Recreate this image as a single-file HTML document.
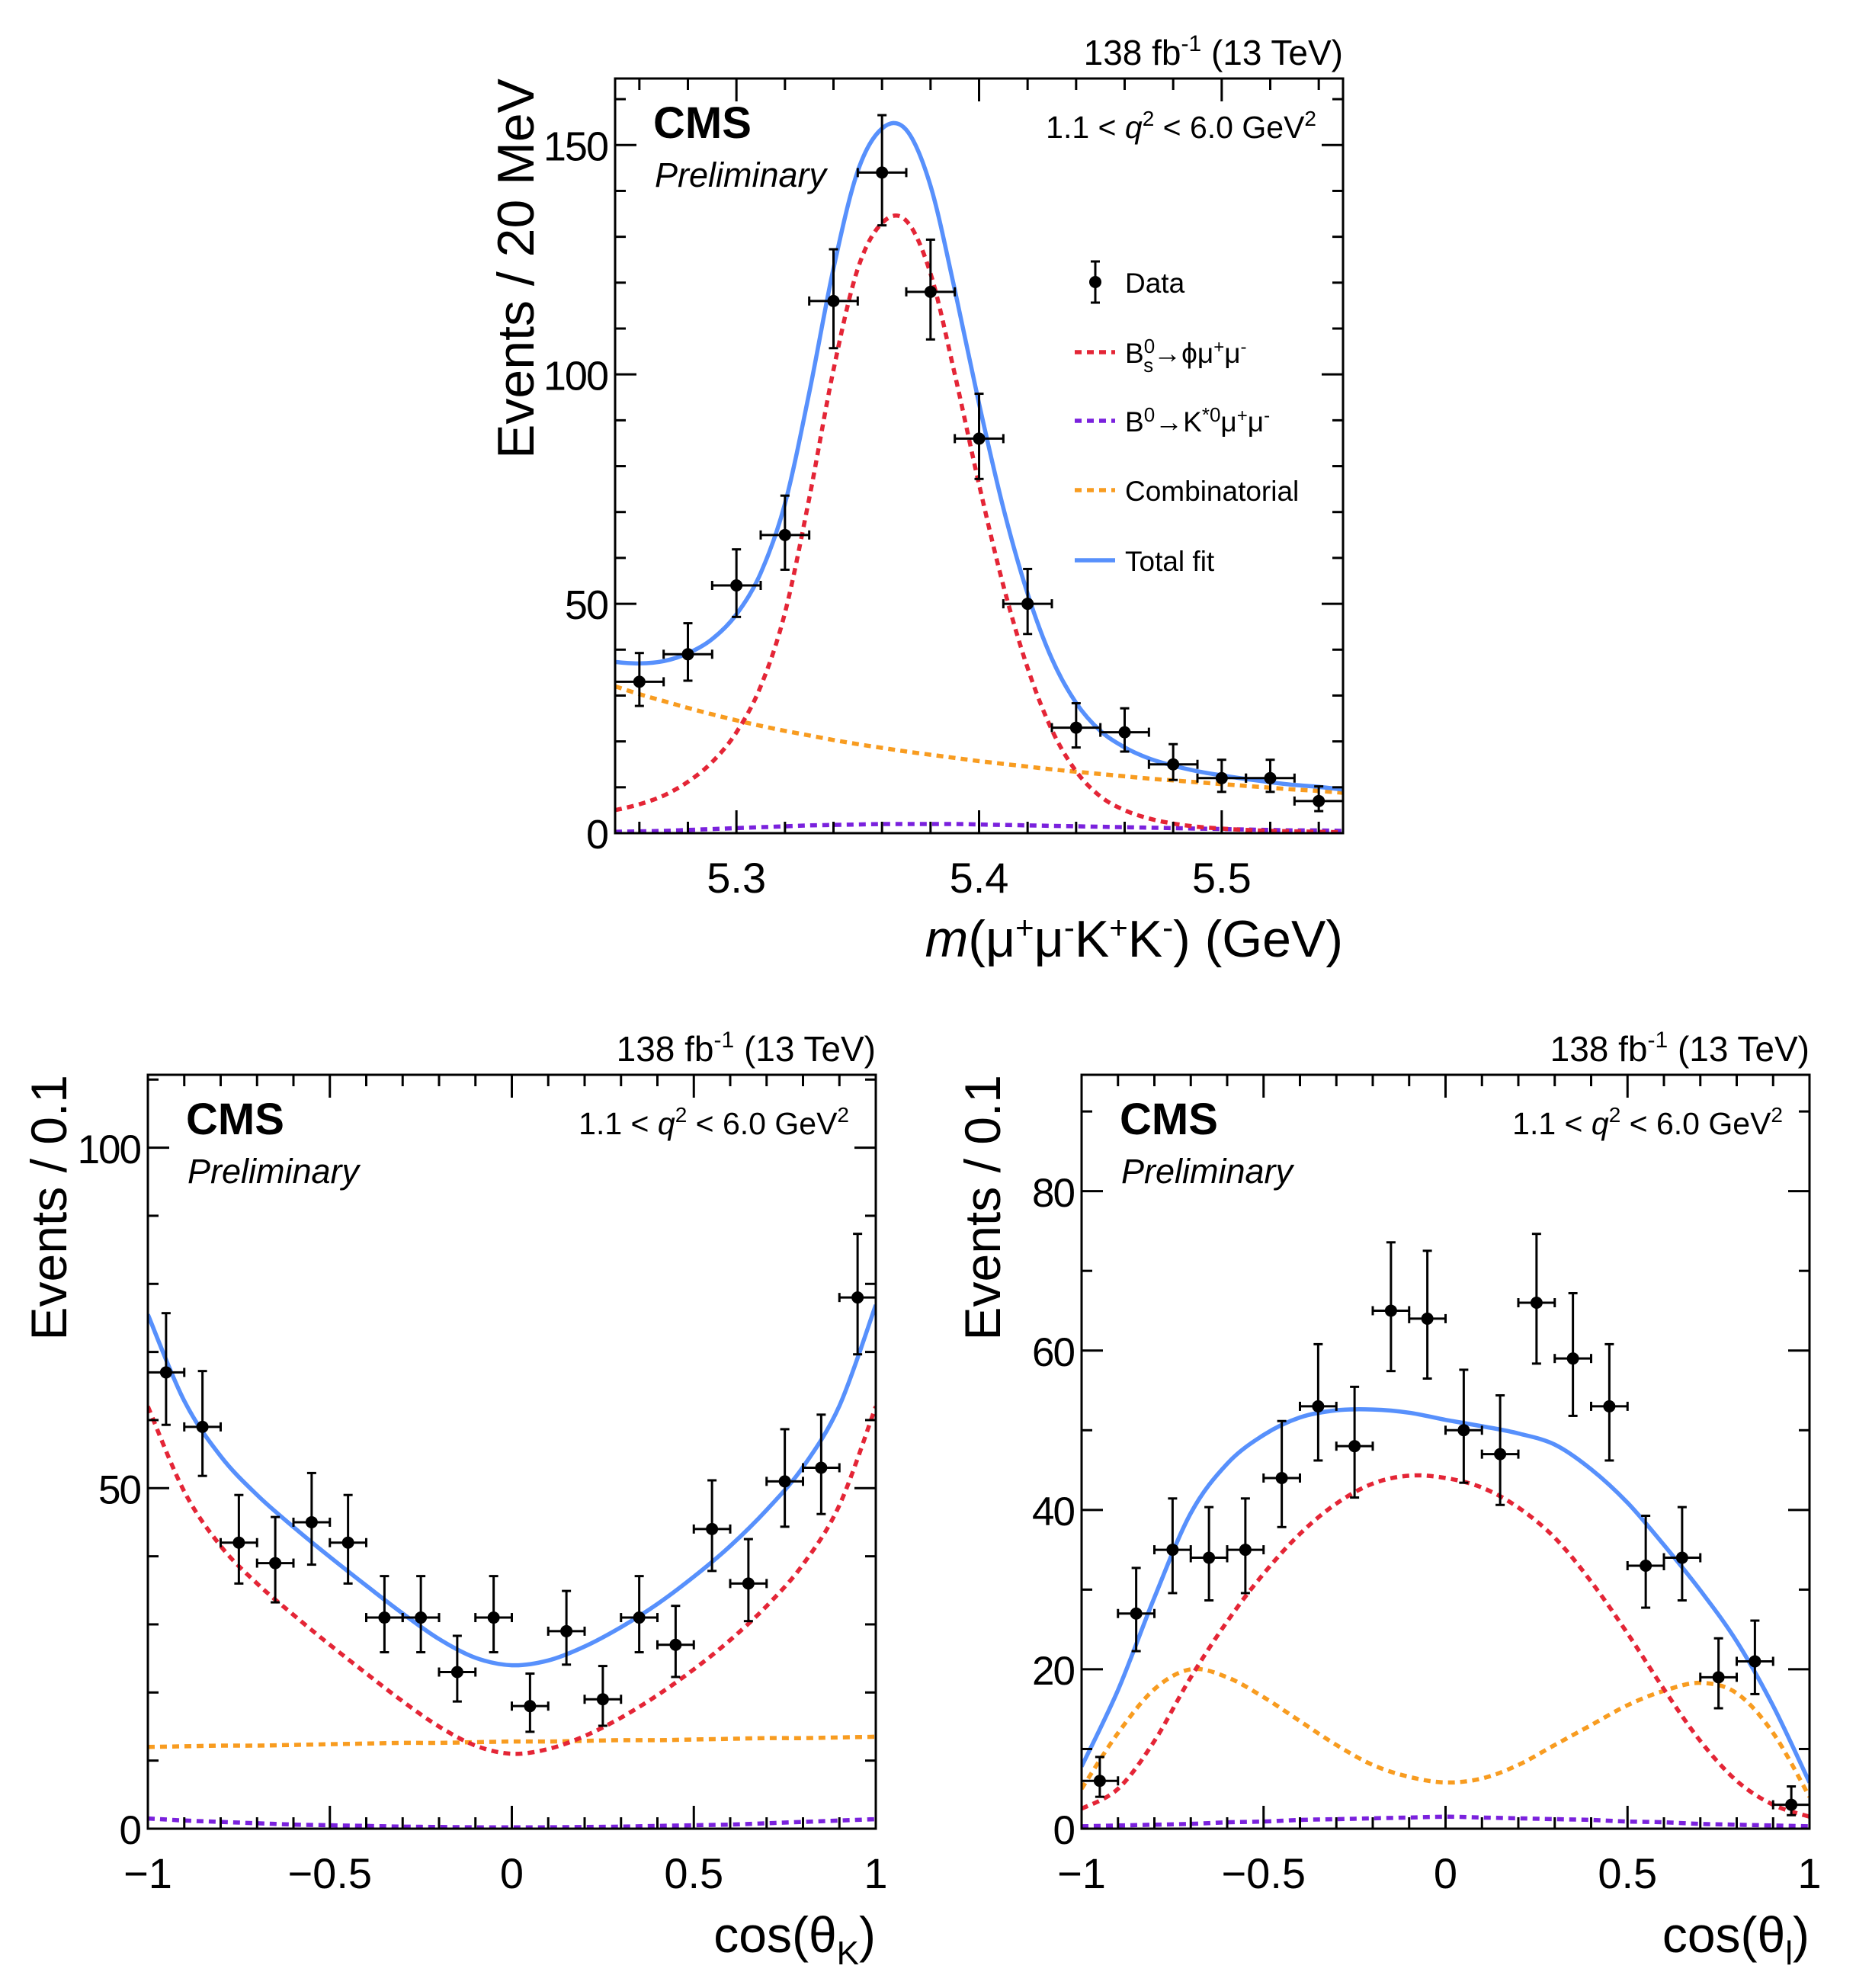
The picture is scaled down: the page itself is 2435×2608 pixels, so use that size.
<!DOCTYPE html>
<html><head><meta charset="utf-8">
<style>
html,body{margin:0;padding:0;background:#fff;}
svg{display:block;font-family:"Liberation Sans",Arial,sans-serif;}
</style></head>
<body>
<svg id="fig" xmlns="http://www.w3.org/2000/svg" width="2435" height="2608" viewBox="0 0 2435 2608">
<rect x="0" y="0" width="2435" height="2608" fill="#fff"/>
</svg>
<script>
// ---------- Top panel data: m(mu mu K K) ----------
const massBins = [5.26,5.28,5.30,5.32,5.34,5.36,5.38,5.40,5.42,5.44,5.46,5.48,5.50,5.52,5.54];
const massCounts = [33,39,54,65,116,144,118,86,50,23,22,15,12,12,7];
const massGrid = [5.25,5.26,5.27,5.28,5.29,5.30,5.31,5.32,5.33,5.34,5.35,5.36,5.37,5.38,5.39,5.40,5.41,5.42,5.43,5.44,5.45,5.46,5.47,5.48,5.49,5.50,5.51,5.52,5.53,5.54,5.55];
const massSignal = [5,6.3,8.2,11.2,15.5,22,32,48,73,101,123,133,133.5,122,100,76,54,36,22.5,13.5,8,5,3.2,2.1,1.4,1,0.7,0.5,0.4,0.3,0.2];
const massPeaking = [0.3,0.4,0.5,0.7,0.9,1.1,1.3,1.5,1.7,1.8,1.9,2.0,2.0,2.0,2.0,1.9,1.8,1.7,1.6,1.5,1.4,1.3,1.2,1.1,1.0,0.9,0.8,0.7,0.6,0.6,0.5];
const massComb = [32,30.3,28.8,27.3,25.9,24.6,23.4,22.3,21.3,20.3,19.4,18.6,17.8,17.1,16.4,15.7,15.1,14.5,13.9,13.4,12.9,12.4,11.9,11.5,11.1,10.7,10.3,9.9,9.5,9.2,8.8];
const massXTicks = [5.3,5.4,5.5];
const massXTickLabels = ["5.3","5.4","5.5"];
const massYTicks = [0,50,100,150];
const massYTickLabels = ["0","50","100","150"];

// ---------- Bottom-left data: cos(theta_K) ----------
const ckBins = [-0.95,-0.85,-0.75,-0.65,-0.55,-0.45,-0.35,-0.25,-0.15,-0.05,0.05,0.15,0.25,0.35,0.45,0.55,0.65,0.75,0.85,0.95];
const ckCounts = [67,59,42,39,45,42,31,31,23,31,18,29,19,31,27,44,36,51,53,78];
const angGrid = [-1,-0.9,-0.8,-0.7,-0.6,-0.5,-0.4,-0.3,-0.2,-0.1,0,0.1,0.2,0.3,0.4,0.5,0.6,0.7,0.8,0.9,1];
const ckSignal = [62,49.5,41.5,36,31.4,27,22.8,18.7,15,12.2,11,11.7,13.6,16.3,19.6,23.4,27.7,32.7,38.8,47.5,62];
const ckPeaking = [1.5,1.2,1.0,0.8,0.6,0.5,0.4,0.3,0.25,0.2,0.2,0.2,0.25,0.3,0.4,0.5,0.6,0.8,1.0,1.2,1.4];
const ckComb = [12,12.1,12.2,12.2,12.3,12.4,12.5,12.6,12.6,12.7,12.8,12.8,12.9,13.0,13.0,13.1,13.2,13.3,13.3,13.4,13.5];
const ckXTicks = [-1,-0.5,0,0.5,1];
const ckXTickLabels = ["\u22121","\u22120.5","0","0.5","1"];
const ckYTicks = [0,50,100];
const ckYTickLabels = ["0","50","100"];

// ---------- Bottom-right data: cos(theta_l) ----------
const clBins = [-0.95,-0.85,-0.75,-0.65,-0.55,-0.45,-0.35,-0.25,-0.15,-0.05,0.05,0.15,0.25,0.35,0.45,0.55,0.65,0.75,0.85,0.95];
const clCounts = [6,27,35,34,35,44,53,48,65,64,50,47,66,59,53,33,34,19,21,3];
const clSignal = [2.5,5,11,19,26,32,37,40.8,43.3,44.3,44,42.8,40.3,36.5,31,24.5,17.5,11,6,3,1.5];
const clPeaking = [0.3,0.4,0.5,0.6,0.8,0.9,1.1,1.2,1.3,1.4,1.5,1.4,1.3,1.2,1.1,0.9,0.8,0.6,0.5,0.4,0.3];
const clComb = [5,12,17.5,20,19,16.5,13.5,10.5,8,6.5,5.8,6.3,8,10.5,13,15.5,17.3,18.3,17,12,4];
const clXTicks = [-1,-0.5,0,0.5,1];
const clXTickLabels = ["\u22121","\u22120.5","0","0.5","1"];
const clYTicks = [0,20,40,60,80];
const clYTickLabels = ["0","20","40","60","80"];

const NS = "http://www.w3.org/2000/svg";
const svg = document.getElementById('fig');
const COL = {blue:"#5790fc", red:"#e42536", purple:"#7a21dd", orange:"#f89c20"};

function mk(tag, attrs, parent){
  const e = document.createElementNS(NS, tag);
  for (const k in attrs) e.setAttribute(k, attrs[k]);
  (parent||svg).appendChild(e);
  return e;
}
function smoothPath(pts){
  let d = "M" + pts[0][0].toFixed(1) + "," + pts[0][1].toFixed(1);
  for (let i=0;i<pts.length-1;i++){
    const p0 = pts[i-1]||pts[i], p1=pts[i], p2=pts[i+1], p3=pts[i+2]||pts[i+1];
    const c1x=p1[0]+(p2[0]-p0[0])/6, c1y=p1[1]+(p2[1]-p0[1])/6;
    const c2x=p2[0]-(p3[0]-p1[0])/6, c2y=p2[1]-(p3[1]-p1[1])/6;
    d += " C"+c1x.toFixed(1)+","+c1y.toFixed(1)+" "+c2x.toFixed(1)+","+c2y.toFixed(1)+" "+p2[0].toFixed(1)+","+p2[1].toFixed(1);
  }
  return d;
}

function panel(c){
  const g = mk('g', {});
  
  
  const sx = v => c.L + (v - c.xmin)/(c.xmax - c.xmin)*(c.R - c.L);
  const sy = v => c.B - (v - c.ymin)/(c.ymax - c.ymin)*(c.B - c.T);
  const clipId = c.name + "-clip";
  const defs = mk('defs', {}, g);
  const cp = mk('clipPath', {id: clipId}, defs);
  mk('rect', {x:c.L, y:c.T, width:c.R-c.L, height:c.B-c.T}, cp);

  const total = c.grid.map((x,i)=> c.signal[i] + c.peaking[i] + c.comb[i]);
  const curveG = mk('g', {'clip-path':'url(#'+clipId+')'}, g);
  const series = [
    {vals:c.comb, col:COL.orange, dash:true, name:'combinatorial-curve'},
    {vals:c.peaking, col:COL.purple, dash:true, name:'b0-kstar-curve'},
    {vals:c.signal, col:COL.red, dash:true, name:'bs-phi-curve'},
    {vals:total, col:COL.blue, dash:false, name:'total-fit-curve'}
  ];
  series.forEach(s=>{
    const pts = c.grid.map((x,i)=>[sx(x), sy(s.vals[i])]);
    const p = mk('path', {d:smoothPath(pts), fill:'none', stroke:s.col, 'stroke-width':5.5,
      'stroke-dasharray': s.dash ? '9,7' : 'none'}, curveG);
    
    
  });

  const hw = c.binW/2;
  c.bins.forEach((x,i)=>{
    const n = c.counts[i];
    const up = Math.sqrt(n+0.25)+0.5, dn = Math.sqrt(n+0.25)-0.5;
    const pg = mk('g', {stroke:'#000','stroke-width':3, fill:'#000'}, g);
    
    
    const X = sx(x), Y = sy(n), Yu = sy(n+up), Yd = sy(n-dn), X1 = sx(x-hw), X2 = sx(x+hw);
    mk('line', {x1:X, y1:Yu, x2:X, y2:Yd}, pg);
    mk('line', {x1:X-6, y1:Yu, x2:X+6, y2:Yu}, pg);
    mk('line', {x1:X-6, y1:Yd, x2:X+6, y2:Yd}, pg);
    mk('line', {x1:X1, y1:Y, x2:X2, y2:Y}, pg);
    mk('line', {x1:X1, y1:Y-6, x2:X1, y2:Y+6}, pg);
    mk('line', {x1:X2, y1:Y-6, x2:X2, y2:Y+6}, pg);
    mk('circle', {cx:X, cy:Y, r:8, stroke:'none'}, pg);
  });

  const fr = mk('rect', {x:c.L, y:c.T, width:c.R-c.L, height:c.B-c.T, fill:'none', stroke:'#000', 'stroke-width':3}, g);
  
  

  const tg = mk('g', {stroke:'#000','stroke-width':3}, g);
  for (let v = c.xmin; v <= c.xmax + 1e-9; v += c.xMinor){
    const vv = Math.round(v/c.xMinor)*c.xMinor;
    if (vv < c.xmin-1e-9) continue;
    const isMajor = Math.abs(vv/c.xMajor - Math.round(vv/c.xMajor)) < 1e-6;
    const len = isMajor ? 30 : 15;
    const X = sx(vv);
    mk('line', {x1:X, y1:c.B, x2:X, y2:c.B-len}, tg);
    mk('line', {x1:X, y1:c.T, x2:X, y2:c.T+len}, tg);
  }
  for (let v = c.ymin; v <= c.ymax + 1e-9; v += c.yMinor){
    const isMajor = Math.abs(v/c.yMajor - Math.round(v/c.yMajor)) < 1e-6;
    const len = isMajor ? 28 : 14;
    const Y = sy(v);
    mk('line', {x1:c.L, y1:Y, x2:c.L+len, y2:Y}, tg);
    mk('line', {x1:c.R, y1:Y, x2:c.R-len, y2:Y}, tg);
  }
  c.xTicks.forEach((v,i)=>{
    const t = mk('text', {x:sx(v), y:c.B+78, 'font-size':c.tickFont, 'text-anchor':'middle'}, g);
    t.textContent = c.xTickLabels[i];
    
    
  });
  c.yTicks.forEach((v,i)=>{
    const t = mk('text', {x:c.L-10, y:sy(v)+c.tickFont*0.36, 'font-size':c.yTickFont, 'text-anchor':'end', 'letter-spacing':-2}, g);
    t.textContent = c.yTickLabels[i];
    
    
  });

  const yt = mk('text', {x:0, y:0, 'font-size':c.titleFont, 'text-anchor':'end',
    transform:'translate('+(c.L-107)+','+c.T+') rotate(-90)'}, g);
  yt.textContent = c.yTitle;
  
  

  const xt = mk('text', {x:c.R, y:c.B+162, 'font-size':c.titleFont, 'text-anchor':'end'}, g);
  xt.innerHTML = c.xTitleHTML;
  
  

  const lu = mk('text', {x:c.R, y:c.T-18, 'font-size':46, 'text-anchor':'end'}, g);
  lu.innerHTML = '138 fb<tspan dy="-18" font-size="30">-1</tspan><tspan dy="18"> (13 TeV)</tspan>';
  
  

  const cms = mk('text', {x:c.L+50, y:c.T+78, 'font-size':58, 'font-weight':'bold'}, g);
  cms.textContent = 'CMS';
  
  
  const pre = mk('text', {x:c.L+52, y:c.T+142, 'font-size':45, 'font-style':'italic'}, g);
  pre.textContent = 'Preliminary';
  
  

  const q = mk('text', {x:c.R-35, y:c.T+78, 'font-size':41, 'text-anchor':'end'}, g);
  q.innerHTML = '1.1 &lt; <tspan font-style="italic">q</tspan><tspan dy="-16" font-size="28">2</tspan><tspan dy="16"> &lt; 6.0 GeV</tspan><tspan dy="-16" font-size="28">2</tspan>';
  
  
}

panel({name:'mass-panel', L:807, T:103, R:1762, B:1093, xmin:5.25, xmax:5.55, ymin:0, ymax:164.5,
  xMajor:0.1, xMinor:0.02, yMajor:50, yMinor:10, tickFont:56, yTickFont:54, titleFont:68,
  grid:massGrid, signal:massSignal, peaking:massPeaking, comb:massComb,
  bins:massBins, counts:massCounts, binW:0.02,
  xTicks:massXTicks, xTickLabels:massXTickLabels, yTicks:massYTicks, yTickLabels:massYTickLabels,
  yTitle:'Events / 20 MeV',
  xTitleHTML:'<tspan font-style="italic">m</tspan>(\u03bc<tspan dy="-24" font-size="42">+</tspan><tspan dy="24">\u03bc</tspan><tspan dy="-24" font-size="42">-</tspan><tspan dy="24">K</tspan><tspan dy="-24" font-size="42">+</tspan><tspan dy="24">K</tspan><tspan dy="-24" font-size="42">-</tspan><tspan dy="24">) (GeV)</tspan>'});

panel({name:'cos-theta-k-panel', L:194, T:1410, R:1149, B:2399, xmin:-1, xmax:1, ymin:0, ymax:110.7,
  xMajor:0.5, xMinor:0.1, yMajor:50, yMinor:10, tickFont:56, yTickFont:53, titleFont:66,
  grid:angGrid, signal:ckSignal, peaking:ckPeaking, comb:ckComb,
  bins:ckBins, counts:ckCounts, binW:0.1,
  xTicks:ckXTicks, xTickLabels:ckXTickLabels, yTicks:ckYTicks, yTickLabels:ckYTickLabels,
  yTitle:'Events / 0.1',
  xTitleHTML:'cos(\u03b8<tspan dy="16" font-size="44">K</tspan><tspan dy="-16">)</tspan>'});

panel({name:'cos-theta-l-panel', L:1419, T:1410, R:2374, B:2399, xmin:-1, xmax:1, ymin:0, ymax:94.6,
  xMajor:0.5, xMinor:0.1, yMajor:20, yMinor:10, tickFont:56, yTickFont:53, titleFont:66,
  grid:angGrid, signal:clSignal, peaking:clPeaking, comb:clComb,
  bins:clBins, counts:clCounts, binW:0.1,
  xTicks:clXTicks, xTickLabels:clXTickLabels, yTicks:clYTicks, yTickLabels:clYTickLabels,
  yTitle:'Events / 0.1',
  xTitleHTML:'cos(\u03b8<tspan dy="16" font-size="44">l</tspan><tspan dy="-16">)</tspan>'});

// ---------- Legend (top panel) ----------
const lg = mk('g', {});


const legRows = [
  {y:370, type:'data', html:'Data', name:'legend-entry-data'},
  {y:462, type:'line', col:COL.red, dash:true, html:'B<tspan dy="-13" font-size="26">0</tspan><tspan dx="-15" dy="25" font-size="26">s</tspan><tspan dy="-12">\u2192\u03d5\u03bc</tspan><tspan dy="-13" font-size="24">+</tspan><tspan dy="13">\u03bc</tspan><tspan dy="-13" font-size="24">-</tspan>', name:'legend-entry-bs-phi'},
  {y:552, type:'line', col:COL.purple, dash:true, html:'B<tspan dy="-13" font-size="26">0</tspan><tspan dy="13">\u2192K</tspan><tspan dy="-13" font-size="26">*0</tspan><tspan dy="13">\u03bc</tspan><tspan dy="-13" font-size="24">+</tspan><tspan dy="13">\u03bc</tspan><tspan dy="-13" font-size="24">-</tspan>', name:'legend-entry-b0-kstar'},
  {y:643, type:'line', col:COL.orange, dash:true, html:'Combinatorial', name:'legend-entry-combinatorial'},
  {y:735, type:'line', col:COL.blue, dash:false, html:'Total fit', name:'legend-entry-total-fit'}
];
legRows.forEach(r=>{
  const eg = mk('g', {}, lg);
  
  
  if (r.type === 'data'){
    mk('line', {x1:1437, y1:r.y-27, x2:1437, y2:r.y+27, stroke:'#000','stroke-width':3}, eg);
    mk('line', {x1:1431, y1:r.y-27, x2:1443, y2:r.y-27, stroke:'#000','stroke-width':3}, eg);
    mk('line', {x1:1431, y1:r.y+27, x2:1443, y2:r.y+27, stroke:'#000','stroke-width':3}, eg);
    mk('circle', {cx:1437, cy:r.y, r:8, fill:'#000'}, eg);
  } else {
    mk('line', {x1:1410, y1:r.y, x2:1463, y2:r.y, stroke:r.col, 'stroke-width':5.5, 'stroke-dasharray': r.dash ? '9,7' : 'none'}, eg);
  }
  const t = mk('text', {x:1476, y:r.y+14, 'font-size':37}, eg);
  t.innerHTML = r.html;
});
</script>
</body></html>
